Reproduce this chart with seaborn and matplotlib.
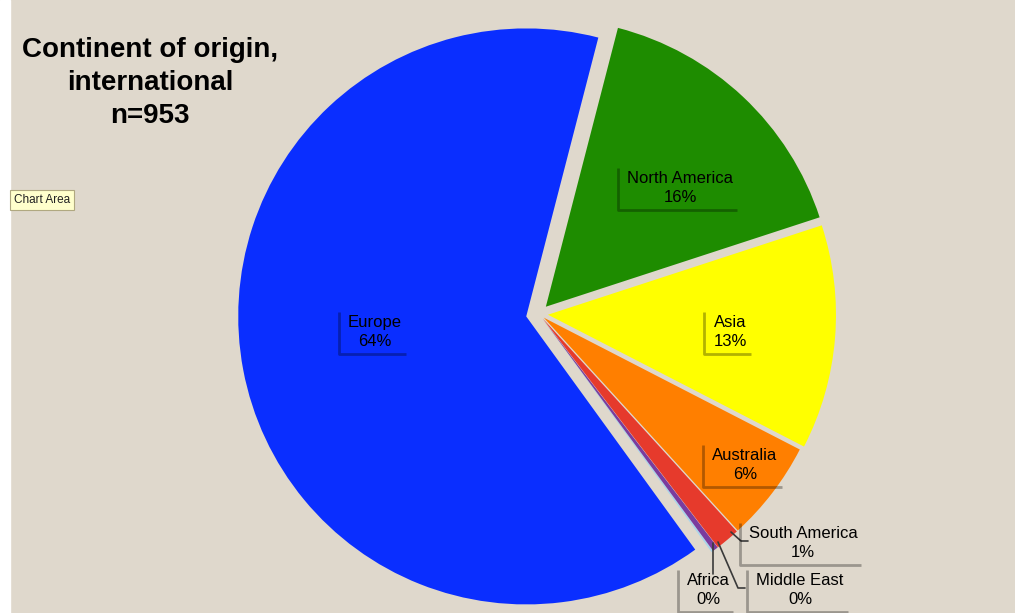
import matplotlib
matplotlib.use("Agg")
import matplotlib.pyplot as plt
import seaborn as sns

continents = ["Europe", "Africa", "Middle East", "South America",
              "Australia", "Asia", "North America"]
counts = [610, 1, 3, 13, 54, 120, 152]
colors = ["#0A2EFF", "#A8D4EC", "#7A3C9E", "#E63A2C",
          "#FF7F00", "#FFFF00", "#1E8C00"]
explode_px = [13, 6, 6, 6, 6, 9, 10]
# label anchor positions in pixels (x, y from top)
label_pos = [(375, 332), (708, 590), (800, 590), (803, 543),
             (745, 465), (730, 332), (680, 188)]
leader_from = [None, (713, 543), (718, 542), (731, 532), None, None, None]

W, H = 1015, 613
BG = "#DFD8CC"

sns.set_theme(style="white")
plt.rcParams["font.family"] = ["Liberation Sans", "DejaVu Sans"]

fig = plt.figure(figsize=(W / 100, H / 100), dpi=100)
fig.patch.set_facecolor(BG)
ax = fig.add_axes([0, 0, 1, 1])

radius = 288
total = sum(counts)
wedges, _ = ax.pie(counts, colors=colors, startangle=75.5, counterclock=True,
                   center=(539, H - 314), radius=radius,
                   explode=explode_px,
                   wedgeprops=dict(linewidth=0), frame=True)
ax.set_xlim(0, W)
ax.set_ylim(0, H)
ax.set_aspect("equal")
ax.axis("off")

# white strip at left edge
ax.axvspan(0, 10, color="white", zorder=0)

texts = []
for name, c, (px, py) in zip(continents, counts, label_pos):
    pct = round(100 * c / total)
    t = ax.text(px, H - py, f"{name}\n{pct}%", ha="center", va="center",
                fontsize=12, color="black", linespacing=1.4, zorder=5)
    texts.append(t)

for t, src in zip(texts, leader_from):
    if src is None:
        continue
    x0, y0 = src
    tx, ty = t.get_position()
    if t.get_text().startswith("Africa"):
        ax.plot([x0, x0], [H - y0, ty + 16], color="#3a3a3a", lw=1.2, zorder=4)
    else:
        ax.plot([x0, tx - 62, tx - 55], [H - y0, ty + 2, ty + 2],
                color="#3a3a3a", lw=1.2, zorder=4)

# shadow brackets around labels
fig.canvas.draw()
r = fig.canvas.get_renderer()
for t in texts:
    bb = t.get_window_extent(r)
    x0, y0, x1, y1 = bb.x0 - 9, bb.y0 - 5, bb.x1 + 4, bb.y1 + 3
    ax.plot([x0, x0, x1], [y1, y0, y0], color="black", alpha=0.3,
            lw=2, zorder=4, solid_capstyle="butt")

ax.text(150, H - 83, "Continent of origin,\ninternational\nn=953",
        ha="center", va="center", fontsize=20, fontweight="bold",
        color="black", linespacing=1.33, zorder=6)

ax.text(14, H - 200, "Chart Area", ha="left", va="center", fontsize=8.5,
        color="#222222", zorder=6,
        bbox=dict(boxstyle="square,pad=0.35", fc="#FFFFCC", ec="#B0A880", lw=0.8))

fig.savefig("out.png", dpi=100, facecolor=BG)
